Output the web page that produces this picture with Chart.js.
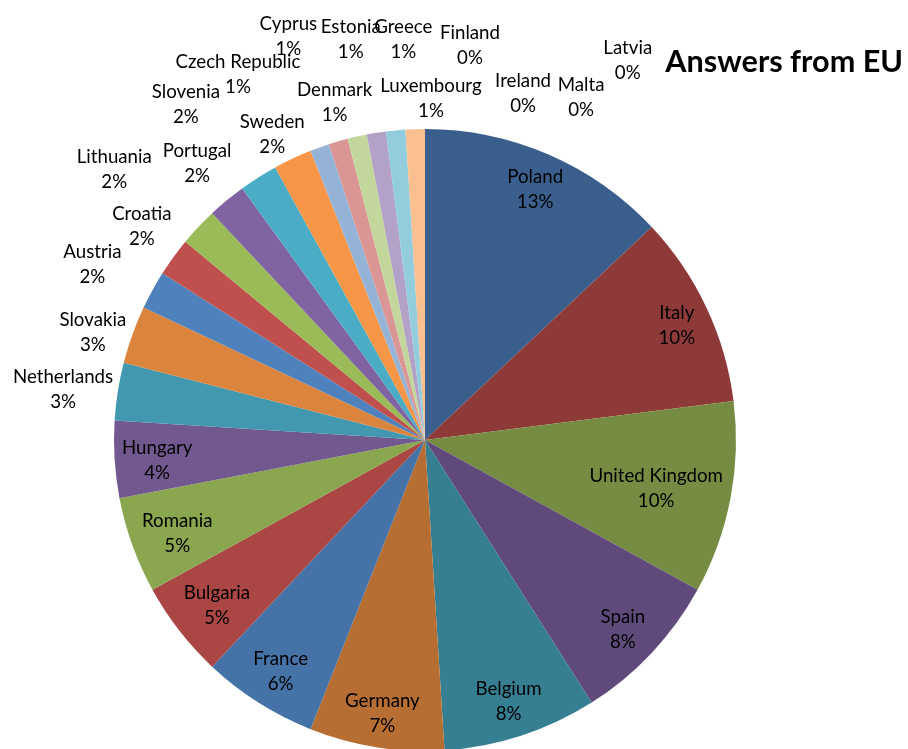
<!DOCTYPE html>
<html>
<head>
<meta charset="utf-8">
<script src="https://cdn.jsdelivr.net/npm/chart.js@4"></script>
<style>
  html, body { margin: 0; padding: 0; background: #ffffff; overflow: hidden; }
  #wrap { position: relative; width: 908px; height: 760px; }
</style>
</head>
<body>
<div id="wrap"><canvas id="c"></canvas></div>
<script>
// ---- data ----
const countries = ["Poland","Italy","United Kingdom","Spain","Belgium","Germany","France","Bulgaria","Romania","Hungary",
  "Netherlands","Slovakia","Austria","Croatia","Lithuania","Portugal","Slovenia","Sweden","Czech Republic","Denmark",
  "Cyprus","Estonia","Greece","Luxembourg","Finland","Ireland","Malta","Latvia"];
const shares = [13,10,10,8,8,7,6,5,5,4,3,3,2,2,2,2,2,2,1,1,1,1,1,1,0,0,0,0];
const sliceColors = ["#3B5F8D","#8E3A38","#758C42","#5F4A7B","#367F92","#B76E32","#4572A7","#AA4644","#8AA64F","#71588F",
  "#4198AF","#DB843D","#4F81BD","#C0504D","#9BBB59","#8064A2","#4BACC6","#F79646","#95B3D7","#D99694",
  "#C3D69B","#B3A2C7","#93CDDD","#FAC090","#2C4D75","#772C2A","#5F7530","#4D3B62"];
const chartTitle = "Answers from EU";

// Labels of the first slices sit inside; the rest sit outside, nudged like the original
const insideCount = 10;
// outside label nudges: [angle shift in degrees, distance as fraction of radius]
const outsideNudge = [
  [-1.1,1.175],[-1.8,1.123],[-1.0,1.209],[1.0,1.140],[-2.2,1.324],[0.1,1.152],[-3.1,1.324],[-1.4,1.097],
  [-7.3,1.320],[1.2,1.122],[-6.1,1.370],[-1.5,1.310],[2.3,1.290],[2.8,1.097],[6.5,1.277],[15.8,1.158],
  [24.5,1.210],[28.1,1.384]
];

const LABEL_FONT = '18.7px Lato, "Open Sans", sans-serif';
const LINE_H = 25;

const labelPlugin = {
  id: 'pieLabels',
  afterDatasetsDraw(chart) {
    const ctx = chart.ctx;
    const meta = chart.getDatasetMeta(0);
    const total = shares.reduce((a, b) => a + b, 0);
    ctx.save();
    ctx.font = LABEL_FONT;
    ctx.fillStyle = '#000000';
    ctx.textAlign = 'center';
    ctx.textBaseline = 'middle';
    meta.data.forEach((arc, i) => {
      const p = arc.getProps(['x','y','startAngle','endAngle','outerRadius'], true);
      const R = p.outerRadius;
      const mid = (p.startAngle + p.endAngle) / 2;
      const l1 = countries[i];
      const l2 = Math.round(shares[i] / total * 100) + '%';
      const w = Math.max(ctx.measureText(l1).width, ctx.measureText(l2).width);
      let cx, cy;
      if (i < insideCount) {
        let r = R * 0.895;
        const hw = w / 2, hh = LINE_H / 2 + 9;
        for (; r > R * 0.3; r -= 1) {
          cx = p.x + Math.cos(mid) * r;
          cy = p.y + Math.sin(mid) * r + 4;
          const corners = [[cx-hw,cy-hh],[cx+hw,cy-hh],[cx-hw,cy+hh],[cx+hw,cy+hh]];
          const ok = corners.every(([qx,qy]) => Math.hypot(qx - p.x, qy - p.y) <= R - 5);
          if (ok) break;
        }
      } else {
        const n = outsideNudge[i - insideCount];
        const a = mid + n[0] * Math.PI / 180;
        const r = R * n[1];
        cx = p.x + Math.cos(a) * r;
        cy = p.y + Math.sin(a) * r;
      }
      ctx.fillText(l1, cx, cy - LINE_H / 2);
      ctx.fillText(l2, cx, cy + LINE_H / 2);
    });
    // title
    ctx.font = 'bold 30.6px Lato, "Open Sans", sans-serif';
    ctx.fillStyle = '#000000';
    ctx.textAlign = 'right';
    ctx.textBaseline = 'alphabetic';
    ctx.fillText(chartTitle, 903, 72);
    ctx.restore();
  }
};

new Chart(document.getElementById('c'), {
  type: 'pie',
  data: {
    labels: countries,
    datasets: [{
      data: shares,
      backgroundColor: sliceColors,
      borderWidth: 0,
      hoverBorderWidth: 0,
      hoverOffset: 0,
      offset: 0
    }]
  },
  options: {
    responsive: true,
    maintainAspectRatio: false,
    animation: false,
    radius: 311,
    layout: { padding: { left: 114, right: 172, top: 129, bottom: 9 } },
    plugins: {
      legend: { display: false },
      tooltip: { enabled: false },
      title: { display: false }
    },
    events: []
  },
  plugins: [labelPlugin]
});
</script>
</body>
</html>
